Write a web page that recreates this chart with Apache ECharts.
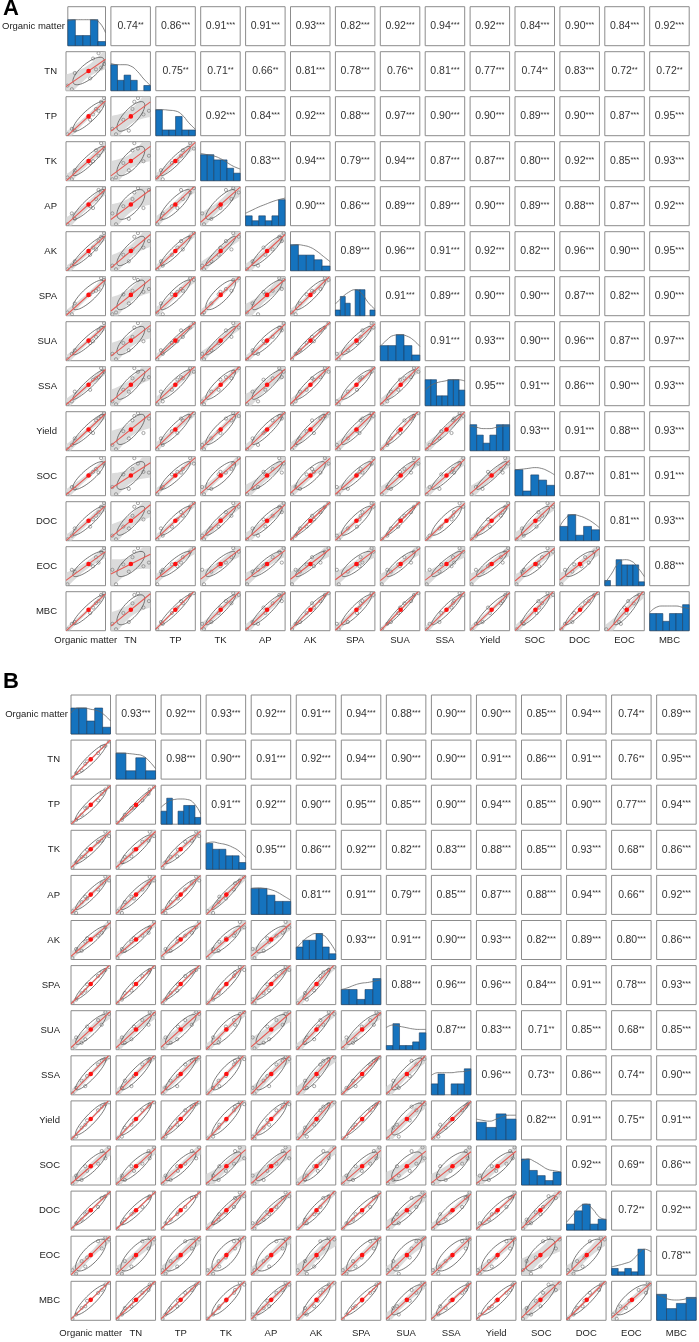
<!DOCTYPE html>
<html>
<head>
<meta charset="utf-8">
<script src="https://cdn.jsdelivr.net/npm/echarts@6.0.0/dist/echarts.min.js"></script>
<style>
html, body { margin: 0; padding: 0; background: #fff; }
#main { width: 699px; height: 1342px; }
</style>
</head>
<body>
<div id="main"></div>
<script>
var varNames = ['Organic matter','TN','TP','TK','AP','AK','SPA','SUA','SSA','Yield','SOC','DOC','EOC','MBC'];

// upper triangle, row i holds the values for columns i+1..13
var corrA = [
  ['0.74**','0.86***','0.91***','0.91***','0.93***','0.82***','0.92***','0.94***','0.92***','0.84***','0.90***','0.84***','0.92***'],
  ['0.75**','0.71**','0.66**','0.81***','0.78***','0.76**','0.81***','0.77***','0.74**','0.83***','0.72**','0.72**'],
  ['0.92***','0.84***','0.92***','0.88***','0.97***','0.90***','0.90***','0.89***','0.90***','0.87***','0.95***'],
  ['0.83***','0.94***','0.79***','0.94***','0.87***','0.87***','0.80***','0.92***','0.85***','0.93***'],
  ['0.90***','0.86***','0.89***','0.89***','0.90***','0.89***','0.88***','0.87***','0.92***'],
  ['0.89***','0.96***','0.91***','0.92***','0.82***','0.96***','0.90***','0.95***'],
  ['0.91***','0.89***','0.90***','0.90***','0.87***','0.82***','0.90***'],
  ['0.91***','0.93***','0.90***','0.96***','0.87***','0.97***'],
  ['0.95***','0.91***','0.86***','0.90***','0.93***'],
  ['0.93***','0.91***','0.88***','0.93***'],
  ['0.87***','0.81***','0.91***'],
  ['0.81***','0.93***'],
  ['0.88***']
];
var corrB = [
  ['0.93***','0.92***','0.93***','0.92***','0.91***','0.94***','0.88***','0.90***','0.90***','0.85***','0.94***','0.74**','0.89***'],
  ['0.98***','0.90***','0.91***','0.92***','0.94***','0.90***','0.90***','0.91***','0.86***','0.91***','0.76**','0.95***'],
  ['0.91***','0.92***','0.90***','0.95***','0.85***','0.90***','0.94***','0.85***','0.90***','0.77***','0.94***'],
  ['0.95***','0.86***','0.92***','0.82***','0.83***','0.88***','0.85***','0.93***','0.68**','0.86***'],
  ['0.81***','0.91***','0.79***','0.85***','0.87***','0.88***','0.94***','0.66**','0.92***'],
  ['0.93***','0.91***','0.90***','0.93***','0.82***','0.89***','0.80***','0.86***'],
  ['0.88***','0.96***','0.96***','0.84***','0.91***','0.78***','0.93***'],
  ['0.87***','0.83***','0.71**','0.85***','0.68**','0.85***'],
  ['0.96***','0.73**','0.86***','0.74**','0.90***'],
  ['0.82***','0.91***','0.75**','0.91***'],
  ['0.92***','0.69**','0.86***'],
  ['0.72**','0.92***'],
  ['0.78***']
];

// diagonal histograms (tallest bar = 1) and density curves
var histA = [
  [1, 0.39, 0.39, 1, 0.16],
  [1, 0.4, 0.6, 0.4, 0, 0.2],
  [1, 0.22, 0.22, 0.74, 0.22, 0.22],
  [1, 1, 0.8, 0.8, 0.48, 0.29],
  [0.38, 0.19, 0.38, 0.19, 0.38, 1],
  [1, 0.6, 0.6, 0.42, 0.18],
  [0.22, 0.74, 0.48, 0, 1, 1, 0, 0.22],
  [0.58, 0.58, 1, 0.58, 0.22],
  [1, 1, 0.38, 0.38, 1, 1, 0.6],
  [1, 0.6, 0.29, 0.6, 1, 1],
  [1, 0.18, 0.8, 0.6, 0.4],
  [0.55, 1, 0.21, 0.55, 0.42],
  [0.2, 0, 1, 0.8, 0.8, 0.8, 0.15],
  [0.66, 0.66, 0.36, 0.66, 0.66, 1]
];
var densA = [
  [0.95, 1.0, 1.0, 1.0, 1.0, 0.9, 0.5],
  [1.05, 1.0, 1.0, 0.95, 0.75, 0.45, 0.2],
  [1.0, 1.0, 0.98, 0.95, 0.8, 0.5, 0.25],
  [1.05, 1.0, 0.95, 0.85, 0.7, 0.55, 0.45],
  [0.48, 0.6, 0.72, 0.82, 0.92, 1.0, 1.06],
  [0.95, 1.0, 0.97, 0.9, 0.75, 0.55, 0.35],
  [0.45, 0.7, 0.9, 1.0, 0.85, 0.5, 0.25],
  [0.55, 0.8, 0.97, 1.0, 0.95, 0.8, 0.55],
  [0.6, 0.8, 0.9, 0.95, 1.0, 1.0, 0.95],
  [0.95, 0.9, 0.85, 0.85, 0.9, 0.95, 0.95],
  [1.0, 1.02, 1.05, 1.08, 1.05, 0.95, 0.8],
  [0.55, 0.9, 1.0, 0.95, 0.85, 0.7, 0.5],
  [0.1, 0.45, 0.85, 1.0, 0.95, 0.7, 0.35],
  [0.7, 0.9, 0.95, 0.95, 0.95, 0.9, 0.85]
];
var histB = [
  [1, 1, 0.5, 1, 0.26],
  [1, 0.32, 0.82, 0.32],
  [0.5, 1, 0, 0.5, 0.72, 0.72, 0.26],
  [1, 0.77, 0.77, 0.52, 0.52, 0.26],
  [1, 1, 0.74, 0.5, 0.5],
  [0.48, 0.74, 0.74, 1, 0.48, 0.22],
  [0.58, 0.58, 0.2, 0.58, 1],
  [0.16, 1, 0.16, 0.16, 0.3, 0.65],
  [0.42, 0.8, 0, 0.42, 0.42, 1],
  [0.68, 0.48, 1, 0.8],
  [1, 0.56, 0.36, 0.17, 0.5],
  [0.23, 0.74, 1, 0.23, 0.42],
  [0.26, 0.13, 0.26, 0.13, 1, 0],
  [1, 0.45, 0.65, 0.88]
];
var densB = [
  [0.8, 1.0, 1.0, 0.95, 0.9, 0.75, 0.5],
  [1.0, 1.0, 0.98, 0.95, 0.9, 0.7, 0.4],
  [0.65, 0.85, 0.95, 0.97, 0.95, 0.8, 0.4],
  [1.0, 1.05, 1.0, 0.95, 0.85, 0.7, 0.45],
  [1.0, 1.02, 1.0, 0.95, 0.85, 0.7, 0.55],
  [0.42, 0.7, 0.9, 1.0, 0.95, 0.7, 0.3],
  [0.58, 0.65, 0.75, 0.82, 0.85, 0.9, 0.95],
  [0.85, 0.95, 0.9, 0.85, 0.8, 0.78, 0.78],
  [0.75, 0.85, 0.85, 0.85, 0.88, 0.9, 0.95],
  [0.8, 0.75, 0.72, 0.8, 0.9, 0.95, 0.95],
  [0.9, 1.0, 0.9, 0.75, 0.6, 0.55, 0.5],
  [0.3, 0.6, 0.9, 1.0, 0.8, 0.5, 0.4],
  [0.32, 0.38, 0.45, 0.55, 0.8, 1.0, 0.9],
  [1.0, 0.9, 0.8, 0.78, 0.8, 0.85, 0.85]
];

// sample values per variable (rescaled 0..1), estimated from the scatter cells
var sampleA = [
  [0.00, 0.12, 0.20, 0.62, 0.70, 0.78, 0.85, 0.92, 1.00],
  [0.10, 0.00, 0.45, 0.30, 0.85, 0.55, 1.00, 0.60, 0.70],
  [0.00, 0.15, 0.10, 0.40, 0.55, 0.70, 0.65, 0.90, 1.00],
  [0.05, 0.00, 0.25, 0.45, 0.50, 0.80, 0.65, 1.00, 0.85],
  [0.00, 0.30, 0.15, 0.50, 0.45, 0.70, 0.95, 0.88, 1.00],
  [0.00, 0.10, 0.22, 0.40, 0.60, 0.55, 0.78, 0.90, 1.00],
  [0.05, 0.00, 0.30, 0.55, 0.62, 0.65, 0.70, 1.00, 0.95],
  [0.00, 0.15, 0.25, 0.45, 0.50, 0.62, 0.80, 0.88, 1.00],
  [0.00, 0.08, 0.35, 0.40, 0.68, 0.72, 0.75, 1.00, 0.90],
  [0.00, 0.12, 0.30, 0.50, 0.45, 0.80, 0.85, 0.92, 1.00],
  [0.00, 0.20, 0.15, 0.55, 0.62, 0.70, 0.60, 1.00, 0.85],
  [0.00, 0.10, 0.30, 0.35, 0.55, 0.65, 0.75, 0.90, 1.00],
  [0.00, 0.40, 0.35, 0.55, 0.50, 0.75, 0.60, 0.90, 1.00],
  [0.00, 0.15, 0.20, 0.45, 0.60, 0.72, 0.78, 0.95, 1.00]
];
var sampleB = [
  [0.00, 0.10, 0.25, 0.35, 0.40, 0.70, 0.80, 0.90, 1.00],
  [0.00, 0.12, 0.20, 0.38, 0.45, 0.68, 0.85, 0.88, 1.00],
  [0.00, 0.08, 0.22, 0.40, 0.42, 0.62, 0.80, 0.92, 1.00],
  [0.00, 0.15, 0.30, 0.32, 0.50, 0.72, 0.75, 1.00, 0.88],
  [0.05, 0.00, 0.30, 0.45, 0.40, 0.65, 0.82, 1.00, 0.90],
  [0.00, 0.25, 0.20, 0.45, 0.55, 0.62, 0.70, 0.85, 1.00],
  [0.00, 0.10, 0.28, 0.35, 0.52, 0.75, 0.85, 0.92, 1.00],
  [0.00, 0.30, 0.15, 0.25, 0.60, 0.78, 0.65, 1.00, 0.95],
  [0.00, 0.15, 0.35, 0.20, 0.48, 0.80, 0.90, 0.95, 1.00],
  [0.00, 0.05, 0.30, 0.38, 0.50, 0.78, 0.88, 0.95, 1.00],
  [0.00, 0.22, 0.10, 0.48, 0.35, 0.55, 0.90, 0.70, 1.00],
  [0.00, 0.15, 0.25, 0.40, 0.45, 0.60, 0.85, 0.90, 1.00],
  [0.10, 0.00, 0.35, 0.20, 0.45, 0.90, 0.70, 1.00, 0.95],
  [0.00, 0.12, 0.30, 0.35, 0.50, 0.72, 0.80, 0.95, 1.00]
];

var FONT = '"Liberation Sans", Arial, sans-serif';
var CW = 39.5, CH = 39;
var PAD = 0.04;     // R style axis padding
var ELL = 1.15;     // ellipse size in sd
var BAND = 2.3;     // width of the grey band in se

var panels = [
  { tag: 'A', left: 66, top: 6.7, dx: 44.9, dy: 45, rowGap: 9, colGap: 5, corr: corrA, hist: histA, dens: densA, samp: sampleA },
  { tag: 'B', left: 71, top: 695, dx: 45.05, dy: 45.1, rowGap: 11, colGap: 8, corr: corrB, hist: histB, dens: densB, samp: sampleB }
];

var option = {
  animation: false,
  backgroundColor: '#fff',
  title: [
    { text: 'A', left: 3, top: -2, padding: 0, textStyle: { fontSize: 22, fontWeight: 'bold', color: '#000', fontFamily: FONT } },
    { text: 'B', left: 3, top: 671, padding: 0, textStyle: { fontSize: 22, fontWeight: 'bold', color: '#000', fontFamily: FONT } }
  ],
  grid: [], xAxis: [], yAxis: [], series: []
};

function corrOf(corr, a, b) { return corr[a][b - a - 1]; }

function mean(v) { var s = 0; for (var k = 0; k < v.length; k++) s += v[k]; return s / v.length; }

function textCell(gi, txt) {
  var m = txt.match(/^([\d.]+)(\**)$/);
  option.series.push({
    type: 'custom', xAxisIndex: gi, yAxisIndex: gi, silent: true, data: [[0.5, 0.5]],
    renderItem: function (params, api) {
      var c = api.coord([0.5, 0.5]);
      return {
        type: 'text', x: c[0], y: c[1],
        style: {
          text: '{v|' + m[1] + '}{s|' + m[2] + '}',
          align: 'center', verticalAlign: 'middle',
          rich: {
            v: { fontSize: 10.5, fontFamily: FONT, fill: '#333' },
            s: { fontSize: 7.5, fontFamily: FONT, fill: '#333', verticalAlign: 'top', lineHeight: 7 }
          }
        }
      };
    }
  });
}

function histCell(gi, h, d) {
  var nb = h.length;
  option.series.push({
    type: 'custom', xAxisIndex: gi, yAxisIndex: gi, silent: true,
    data: h.map(function (v, k) { return [k, v]; }),
    renderItem: function (params, api) {
      var k = api.value(0), v = api.value(1);
      if (!v) return;
      var a = api.coord([k, v]), b = api.coord([k + 1, 0]);
      return {
        type: 'rect',
        shape: { x: a[0], y: a[1], width: b[0] - a[0], height: b[1] - a[1] },
        style: { fill: '#1573be', stroke: '#1d3d5e', lineWidth: 0.6 }
      };
    }
  });
  option.series.push({
    type: 'line', xAxisIndex: gi, yAxisIndex: gi, silent: true, symbol: 'none', smooth: 0.5,
    data: d.map(function (v, k) { return [k * nb / (d.length - 1), v]; }),
    lineStyle: { color: '#666', width: 0.8 }
  });
}

function scatterCell(gi, xs, ys, r) {
  var n = xs.length, mx = mean(xs), my = mean(ys), sxx = 0, syy = 0, sxy = 0;
  for (var k = 0; k < n; k++) {
    sxx += (xs[k] - mx) * (xs[k] - mx);
    syy += (ys[k] - my) * (ys[k] - my);
    sxy += (xs[k] - mx) * (ys[k] - my);
  }
  var b = sxy / sxx, a = my - b * mx, sse = 0;
  for (k = 0; k < n; k++) sse += Math.pow(ys[k] - a - b * xs[k], 2);
  var se = Math.sqrt(sse / (n - 2));
  var sdx = Math.sqrt(sxx / (n - 1)), sdy = Math.sqrt(syy / (n - 1));
  var th = 1 / Math.sqrt(2);

  option.series.push({
    type: 'custom', xAxisIndex: gi, yAxisIndex: gi, silent: true, clip: true, data: [[mx, my]],
    renderItem: function (params, api) {
      var kids = [], up = [], lo = [], q;
      for (q = 0; q <= 24; q++) {
        var x = -PAD + (1 + 2 * PAD) * q / 24;
        var yf = a + b * x;
        var w = BAND * se * Math.sqrt(1 / n + (x - mx) * (x - mx) / sxx);
        up.push(api.coord([x, yf + w]));
        lo.unshift(api.coord([x, yf - w]));
      }
      kids.push({ type: 'polygon', shape: { points: up.concat(lo) }, style: { fill: '#d2d2d2', opacity: 0.8 } });
      for (q = 0; q < n; q++) {
        var p = api.coord([xs[q], ys[q]]);
        kids.push({ type: 'circle', shape: { cx: p[0], cy: p[1], r: 1.6 }, style: { fill: 'none', stroke: '#808080', lineWidth: 0.7 } });
      }
      var ell = [];
      for (q = 0; q <= 51; q++) {
        var ang = q * 2 * Math.PI / 51;
        var u = Math.cos(ang) * Math.sqrt(1 + r), v = Math.sin(ang) * Math.sqrt(1 - r);
        ell.push(api.coord([mx + ELL * sdx * th * (u - v), my + ELL * sdy * th * (u + v)]));
      }
      kids.push({ type: 'polygon', shape: { points: ell }, style: { fill: 'none', stroke: '#555', lineWidth: 0.8 } });
      var l0 = api.coord([-PAD, a - b * PAD]), l1 = api.coord([1 + PAD, a + b * (1 + PAD)]);
      kids.push({ type: 'line', shape: { x1: l0[0], y1: l0[1], x2: l1[0], y2: l1[1] }, style: { stroke: '#e45a54', lineWidth: 1.1 } });
      var c = api.coord([mx, my]);
      kids.push({ type: 'circle', shape: { cx: c[0], cy: c[1], r: 2.3 }, style: { fill: '#ff1010' } });
      return { type: 'group', children: kids };
    }
  });
}

function hiddenAxis(gi, min, max) {
  return { gridIndex: gi, type: 'value', show: false, min: min, max: max };
}

function nameAxis(ax) {
  ax.show = true;
  ax.axisLine = { show: false };
  ax.axisTick = { show: false };
  ax.axisLabel = { show: false };
  ax.splitLine = { show: false };
}

panels.forEach(function (p) {
  for (var i = 0; i < 14; i++) {
    for (var j = 0; j < 14; j++) {
      var gi = option.grid.length;
      option.grid.push({
        left: p.left + j * p.dx, top: p.top + i * p.dy, width: CW, height: CH,
        show: true, borderColor: '#8c8c8c', borderWidth: 1, backgroundColor: '#fff'
      });
      var xa = hiddenAxis(gi, -PAD, 1 + PAD), ya = hiddenAxis(gi, -PAD, 1 + PAD);
      if (i === j) { xa.max = p.hist[i].length; xa.min = 0; ya.min = 0; ya.max = 1.5; }
      if (i === 13) {
        nameAxis(xa);
        xa.name = varNames[j]; xa.nameLocation = 'middle'; xa.nameGap = p.colGap;
        xa.nameTextStyle = { fontSize: 9.5, color: '#222', fontFamily: FONT, align: 'center', verticalAlign: 'top' };
      }
      if (j === 0) {
        nameAxis(ya);
        ya.name = varNames[i]; ya.nameLocation = 'middle'; ya.nameRotate = 0;
        ya.nameGap = i === 0 ? 3 : p.rowGap;
        ya.nameTextStyle = { fontSize: 9.5, color: '#222', fontFamily: FONT, align: 'right', verticalAlign: 'middle' };
      }
      option.xAxis.push(xa);
      option.yAxis.push(ya);

      if (i < j) textCell(gi, corrOf(p.corr, i, j));
      else if (i === j) histCell(gi, p.hist[i], p.dens[i]);
      else scatterCell(gi, p.samp[j], p.samp[i], parseFloat(corrOf(p.corr, j, i)));
    }
  }
});

var chart = echarts.init(document.getElementById('main'), null, { renderer: 'canvas' });
chart.setOption(option);
</script>
</body>
</html>
